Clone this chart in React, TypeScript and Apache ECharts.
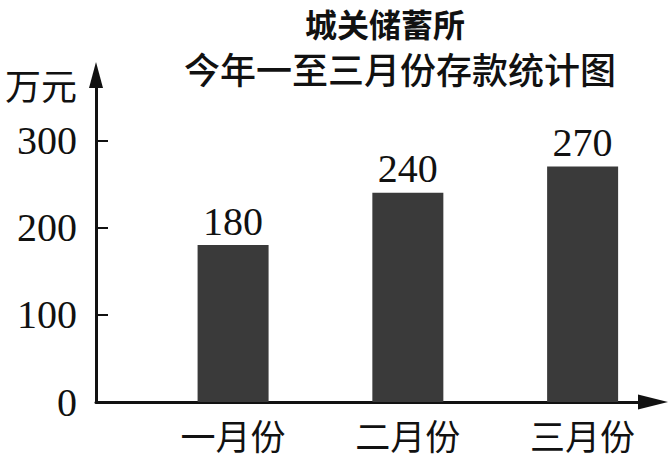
import React, { useEffect, useRef } from "react";
import * as echarts from "echarts";

const categories = ["一月份", "二月份", "三月份"];
const deposits = [180, 240, 270];
const yTicks = [0, 100, 200, 300];
const titleLines = ["城关储蓄所", "今年一至三月份存款统计图"];
const unitLabel = "万元";

const CJK = '"Noto Sans CJK SC", "Noto Sans", sans-serif';
const SERIF = '"Liberation Serif", "DejaVu Serif", serif';
const Y_MAX = 375;

export default function App() {
  const ref = useRef<HTMLDivElement>(null);
  useEffect(() => {
    if (!ref.current) return;
    const chart = echarts.init(ref.current, undefined, { renderer: "svg" });
    chart.setOption({
      animation: false,
      backgroundColor: "#ffffff",
      graphic: [
        {
          type: "text",
          x: 385,
          y: 23,
          style: {
            text: titleLines[0],
            fontSize: 32,
            lineHeight: 32,
            fontWeight: "bold",
            fontFamily: CJK,
            fill: "#111",
            align: "center",
            verticalAlign: "middle",
          },
        },
        {
          type: "text",
          x: 400,
          y: 68,
          style: {
            text: titleLines[1],
            fontSize: 36,
            lineHeight: 36,
            fontWeight: 500,
            fontFamily: CJK,
            fill: "#111",
            align: "center",
            verticalAlign: "middle",
          },
        },
        {
          type: "text",
          x: 41,
          y: 84,
          style: {
            text: unitLabel,
            fontSize: 36,
            lineHeight: 36,
            fontFamily: CJK,
            fill: "#111",
            align: "center",
            verticalAlign: "middle",
          },
        },
      ],
      grid: [
        { left: 145.7, right: -2.7, top: 75, bottom: 59 },
        { left: 96, right: 17, top: 75, bottom: 59 },
      ],
      xAxis: [
        {
          type: "category",
          gridIndex: 0,
          data: categories,
          axisLine: { show: false },
          axisTick: { show: false },
          axisLabel: {
            fontSize: 35,
            lineHeight: 35,
            fontFamily: CJK,
            color: "#111",
            margin: 15,
          },
        },
        {
          type: "value",
          gridIndex: 1,
          min: 0,
          max: 1,
          axisLine: {
            show: true,
            lineStyle: { color: "#111", width: 3 },
            symbol: ["none", "triangle"],
            symbolSize: [15, 30],
          },
          axisTick: { show: false },
          axisLabel: { show: false },
          splitLine: { show: false },
        },
      ],
      yAxis: [
        {
          type: "value",
          gridIndex: 0,
          min: 0,
          max: Y_MAX,
          show: false,
          splitLine: { show: false },
        },
        {
          type: "value",
          gridIndex: 1,
          min: 0,
          max: Y_MAX,
          interval: 100,
          axisLine: {
            show: true,
            lineStyle: { color: "#111", width: 3 },
            symbol: ["none", "triangle"],
            symbolSize: [14, 26],
          },
          axisTick: {
            show: true,
            inside: true,
            length: 12,
            customValues: yTicks,
            lineStyle: { color: "#111", width: 2 },
          },
          axisLabel: {
            customValues: yTicks,
            fontSize: 40,
            fontFamily: SERIF,
            color: "#111",
            margin: 19,
          },
          splitLine: { show: false },
        },
      ],
      series: [
        {
          type: "bar",
          xAxisIndex: 0,
          yAxisIndex: 0,
          data: deposits,
          barWidth: 71,
          itemStyle: { color: "#3a3a3a" },
          label: {
            show: true,
            position: "top",
            distance: 4,
            fontSize: 40,
            fontFamily: SERIF,
            color: "#111",
          },
        },
      ],
    });
    return () => chart.dispose();
  }, []);
  return (
    <div
      ref={ref}
      style={{ position: "fixed", left: 0, top: 0, width: 670, height: 461 }}
    />
  );
}
